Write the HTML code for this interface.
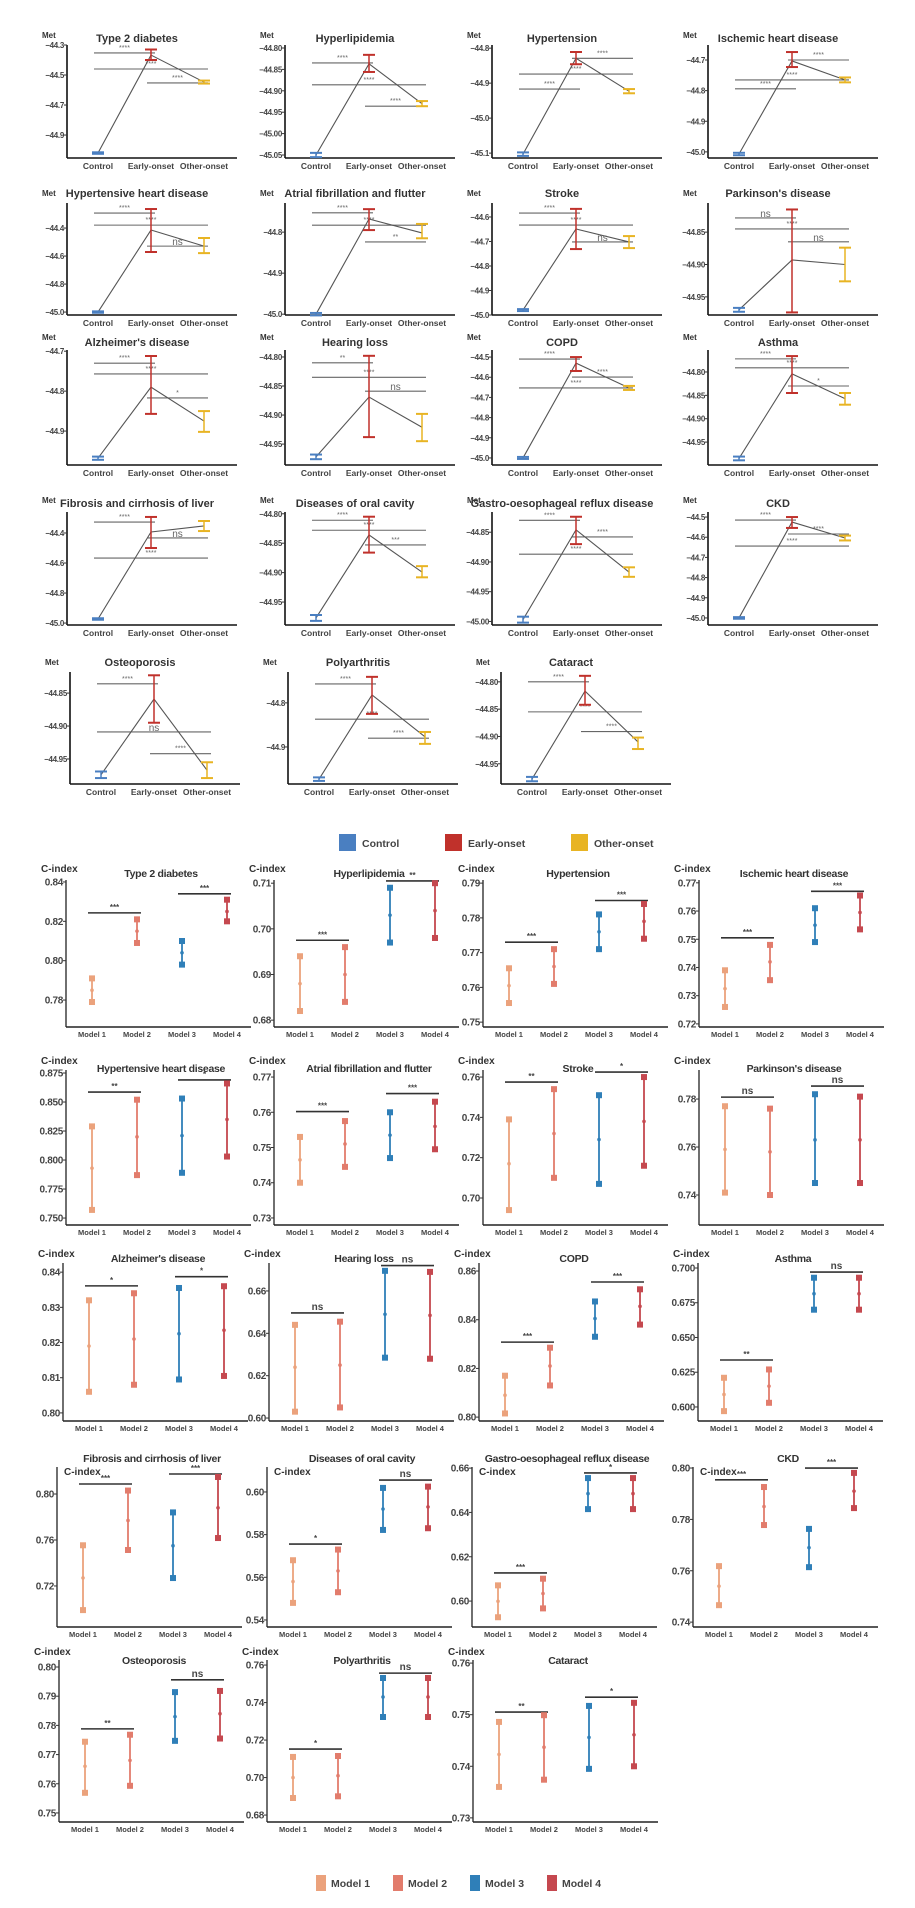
<!DOCTYPE html>
<html><head><meta charset="utf-8">
<style>
html,body{margin:0;padding:0;background:#fff;}
svg{display:block;font-family:"Liberation Sans",Arial,sans-serif;}
</style></head>
<body>
<svg id="fig" width="915" height="1908" viewBox="0 0 915 1908" xmlns="http://www.w3.org/2000/svg"></svg>
<script>
// ===== Top section data (Met, mean and error range by group) =====
const groups = ["Control","Early-onset","Other-onset"];
const groupColors = ["#4a7fc1","#c0312b","#e8b423"];
const topTitles = ["Type 2 diabetes","Hyperlipidemia","Hypertension","Ischemic heart disease",
 "Hypertensive heart disease","Atrial fibrillation and flutter","Stroke","Parkinson's disease",
 "Alzheimer's disease","Hearing loss","COPD","Asthma",
 "Fibrosis and cirrhosis of liver","Diseases of oral cavity","Gastro-oesophageal reflux disease","CKD",
 "Osteoporosis","Polyarthritis","Cataract"];
const topDomains = [[-45.053,-44.3],[-45.057,-44.793],[-45.114,-44.791],[-45.02,-44.651],
 [-45.021,-44.221],[-45.002,-44.729],[-45.0,-44.543],[-44.978,-44.805],
 [-44.985,-44.697],[-44.986,-44.788],[-45.035,-44.465],[-44.999,-44.753],
 [-45.013,-44.26],[-44.989,-44.797],[-45.006,-44.816],[-45.035,-44.475],
 [-44.988,-44.818],[-44.984,-44.73],[-44.987,-44.782]];
const topTicks = [["-44.3","-44.5","-44.7","-44.9"],["-44.80","-44.85","-44.90","-44.95","-45.00","-45.05"],
 ["-44.8","-44.9","-45.0","-45.1"],["-44.7","-44.8","-44.9","-45.0"],
 ["-44.4","-44.6","-44.8","-45.0"],["-44.8","-44.9","-45.0"],["-44.6","-44.7","-44.8","-44.9","-45.0"],["-44.85","-44.90","-44.95"],
 ["-44.7","-44.8","-44.9"],["-44.80","-44.85","-44.90","-44.95"],["-44.5","-44.6","-44.7","-44.8","-44.9","-45.0"],["-44.80","-44.85","-44.90","-44.95"],
 ["-44.4","-44.6","-44.8","-45.0"],["-44.80","-44.85","-44.90","-44.95"],["-44.85","-44.90","-44.95","-45.00"],["-44.5","-44.6","-44.7","-44.8","-44.9","-45.0"],
 ["-44.85","-44.90","-44.95"],["-44.8","-44.9"],["-44.80","-44.85","-44.90","-44.95"]];
const topMeans = [[-45.02,-44.367,-44.547],[-45.05,-44.837,-44.93],[-45.103,-44.829,-44.923],[-45.007,-44.703,-44.765],
 [-45.0,-44.414,-44.529],[-45.0,-44.768,-44.802],[-44.98,-44.649,-44.702],[-44.97,-44.893,-44.90],
 [-44.968,-44.79,-44.875],[-44.972,-44.869,-44.921],[-45.0,-44.53,-44.653],[-44.985,-44.804,-44.857],
 [-44.973,-44.393,-44.353],[-44.977,-44.836,-44.899],[-44.997,-44.846,-44.917],[-45.0,-44.525,-44.604],
 [-44.974,-44.859,-44.967],[-44.973,-44.782,-44.877],[-44.978,-44.817,-44.91]];
const topLow = [[-45.025,-44.40,-44.557],[-45.055,-44.856,-44.936],[-45.108,-44.846,-44.929],[-45.011,-44.723,-44.773],
 [-45.005,-44.571,-44.579],[-45.003,-44.795,-44.815],[-44.984,-44.731,-44.727],[-44.973,-44.974,-44.926],
 [-44.972,-44.857,-44.902],[-44.976,-44.938,-44.945],[-45.005,-44.569,-44.663],[-44.989,-44.845,-44.87],
 [-44.978,-44.5,-44.387],[-44.982,-44.866,-44.908],[-45.002,-44.87,-44.925],[-45.004,-44.554,-44.616],
 [-44.979,-44.895,-44.979],[-44.977,-44.825,-44.893],[-44.982,-44.842,-44.923]];
const topHigh = [[-45.015,-44.33,-44.537],[-45.045,-44.816,-44.924],[-45.098,-44.811,-44.917],[-45.003,-44.674,-44.757],
 [-44.995,-44.264,-44.471],[-44.997,-44.744,-44.78],[-44.976,-44.567,-44.678],[-44.967,-44.815,-44.874],
 [-44.964,-44.712,-44.85],[-44.968,-44.798,-44.898],[-44.995,-44.5,-44.643],[-44.981,-44.766,-44.845],
 [-44.968,-44.293,-44.32],[-44.972,-44.805,-44.889],[-44.992,-44.824,-44.909],[-44.996,-44.5,-44.592],
 [-44.969,-44.823,-44.955],[-44.969,-44.741,-44.866],[-44.974,-44.789,-44.902]];
// brackets: [value, fromGroup, toGroup, label]
const topBrackets = [
 [[-44.353,0,1,"****"],[-44.46,0,2,"****"],[-44.553,1,2,"****"]],
 [[-44.835,0,1,"****"],[-44.886,0,2,"****"],[-44.936,1,2,"****"]],
 [[-44.829,1,2,"****"],[-44.874,0,2,"****"],[-44.917,0,1,"****"]],
 [[-44.70,1,2,"****"],[-44.765,0,2,"****"],[-44.794,0,1,"****"]],
 [[-44.293,0,1,"****"],[-44.379,0,2,"****"],[-44.529,1,2,"ns"]],
 [[-44.753,0,1,"****"],[-44.783,0,2,"****"],[-44.824,1,2,"**"]],
 [[-44.584,0,1,"****"],[-44.633,0,2,"****"],[-44.702,1,2,"ns"]],
 [[-44.828,0,1,"ns"],[-44.845,0,2,"****"],[-44.865,1,2,"ns"]],
 [[-44.73,0,1,"****"],[-44.757,0,2,"****"],[-44.817,1,2,"*"]],
 [[-44.81,0,1,"**"],[-44.835,0,2,"****"],[-44.859,1,2,"ns"]],
 [[-44.51,0,1,"****"],[-44.599,1,2,"****"],[-44.653,0,2,"****"]],
 [[-44.772,0,1,"****"],[-44.791,0,2,"****"],[-44.83,1,2,"*"]],
 [[-44.327,0,1,"****"],[-44.433,1,2,"ns"],[-44.567,0,2,"****"]],
 [[-44.811,0,1,"****"],[-44.828,0,2,"****"],[-44.853,1,2,"***"]],
 [[-44.83,0,1,"****"],[-44.858,1,2,"****"],[-44.887,0,2,"****"]],
 [[-44.515,0,1,"****"],[-44.584,1,2,"****"],[-44.644,0,2,"****"]],
 [[-44.836,0,1,"****"],[-44.909,0,2,"ns"],[-44.942,1,2,"****"]],
 [[-44.757,0,1,"****"],[-44.837,0,2,"****"],[-44.88,1,2,"****"]],
 [[-44.80,0,1,"****"],[-44.855,0,2,"****"],[-44.891,1,2,"****"]]];

// ===== Bottom section data (C-index) =====
const models = ["Model 1","Model 2","Model 3","Model 4"];
const modelColors = ["#eba27c","#e27c6c","#2f7fb8","#c5484f"];
const botDomains = [[0.7663,0.841],[0.6785,0.7107],[0.7486,0.7909],[0.7189,0.771],
 [0.744,0.8776],[0.728,0.772],[0.6866,0.7635],[0.7275,0.7921],
 [0.7977,0.8426],[0.5986,0.6732],[0.7984,0.8633],[0.5899,0.7036],
 [0.6843,0.8235],[0.5367,0.6117],[0.5883,0.6605],[0.7381,0.8004],
 [0.7469,0.8024],[0.6763,0.7627],[0.7292,0.7606]];
const botTicks = [["0.78","0.80","0.82","0.84"],["0.68","0.69","0.70","0.71"],["0.75","0.76","0.77","0.78","0.79"],["0.72","0.73","0.74","0.75","0.76","0.77"],
 ["0.750","0.775","0.800","0.825","0.850","0.875"],["0.73","0.74","0.75","0.76","0.77"],["0.70","0.72","0.74","0.76"],["0.74","0.76","0.78"],
 ["0.80","0.81","0.82","0.83","0.84"],["0.60","0.62","0.64","0.66"],["0.80","0.82","0.84","0.86"],["0.600","0.625","0.650","0.675","0.700"],
 ["0.72","0.76","0.80"],["0.54","0.56","0.58","0.60"],["0.60","0.62","0.64","0.66"],["0.74","0.76","0.78","0.80"],
 ["0.75","0.76","0.77","0.78","0.79","0.80"],["0.68","0.70","0.72","0.74","0.76"],["0.73","0.74","0.75","0.76"]];
const botLow = [[0.779,0.809,0.798,0.820],[0.682,0.684,0.697,0.698],[0.7555,0.761,0.771,0.774],[0.726,0.7355,0.749,0.7535],
 [0.757,0.787,0.789,0.803],[0.740,0.7445,0.747,0.7495],[0.694,0.710,0.707,0.716],[0.741,0.740,0.745,0.745],
 [0.806,0.808,0.8095,0.8105],[0.603,0.605,0.6285,0.628],[0.8015,0.813,0.833,0.838],[0.597,0.603,0.670,0.670],
 [0.699,0.7513,0.7269,0.7617],[0.548,0.553,0.5822,0.583],[0.5927,0.5967,0.6415,0.6415],[0.7466,0.7778,0.7614,0.7844],
 [0.7569,0.7593,0.7747,0.7755],[0.6891,0.690,0.7323,0.7323],[0.736,0.7374,0.7395,0.740]];
const botMid = [[0.785,0.815,0.804,0.825],[0.688,0.690,0.703,0.704],[0.7605,0.766,0.776,0.779],[0.7325,0.742,0.755,0.7595],
 [0.793,0.820,0.821,0.835],[0.7465,0.751,0.7535,0.756],[0.717,0.732,0.729,0.738],[0.759,0.758,0.763,0.763],
 [0.819,0.821,0.8225,0.8235],[0.624,0.625,0.649,0.6485],[0.809,0.821,0.8405,0.8455],[0.609,0.615,0.6815,0.6815],
 [0.727,0.777,0.755,0.788],[0.558,0.563,0.592,0.593],[0.5999,0.6034,0.6485,0.6485],[0.754,0.785,0.769,0.791],
 [0.766,0.768,0.783,0.784],[0.700,0.701,0.743,0.743],[0.7423,0.7437,0.7456,0.7461]];
const botHigh = [[0.791,0.821,0.810,0.831],[0.694,0.696,0.709,0.710],[0.7655,0.771,0.781,0.784],[0.739,0.748,0.761,0.7655],
 [0.829,0.852,0.853,0.866],[0.753,0.7575,0.760,0.763],[0.739,0.754,0.751,0.760],[0.777,0.776,0.782,0.781],
 [0.832,0.834,0.8355,0.836],[0.644,0.6455,0.6695,0.669],[0.817,0.8285,0.8475,0.8525],[0.621,0.627,0.693,0.693],
 [0.7554,0.803,0.784,0.8148],[0.568,0.573,0.6019,0.6025],[0.6071,0.6101,0.6555,0.6555],[0.7618,0.7926,0.7763,0.7981],
 [0.7744,0.7768,0.7914,0.7918],[0.711,0.7115,0.7531,0.7531],[0.7486,0.7499,0.7517,0.7523]];
// brackets: [value, label] for Model1-2 and Model3-4
const botBr12 = [[0.8243,"***"],[0.6975,"***"],[0.773,"***"],[0.7505,"***"],[0.8586,"**"],[0.7602,"***"],[0.7575,"**"],[0.7808,"ns"],
 [0.8361,"*"],[0.6496,"ns"],[0.8308,"***"],[0.6338,"**"],[0.8087,"***"],[0.5756,"*"],[0.6127,"***"],[0.7954,"***"],
 [0.7788,"**"],[0.7152,"*"],[0.7505,"**"]];
const botBr34 = [[0.834,"***"],[0.7105,"**"],[0.785,"***"],[0.767,"***"],[0.869,"*"],[0.7653,"***"],[0.7625,"*"],[0.7854,"ns"],
 [0.8387,"*"],[0.672,"ns"],[0.8555,"***"],[0.6971,"ns"],[0.8174,"***"],[0.6056,"ns"],[0.6578,"*"],[0.80,"***"],
 [0.7956,"ns"],[0.7557,"ns"],[0.7534,"*"]];

// ===== layout =====
const svg = document.getElementById('fig');
const NS = "http://www.w3.org/2000/svg";
function mk(tag, attrs, parent, text){
  const e = document.createElementNS(NS, tag);
  for (const k in attrs) e.setAttribute(k, attrs[k]);
  if (text !== undefined) e.textContent = text;
  (parent||svg).appendChild(e);
  return e;
}
const minus = s => s.replace('-', '\u2212');

const topRows = [[45,158,35,38],[203,315,193,193],[350,465,337,342],[512,625,500,503],[672,784,662,662]];
const topCols = [[67,285,492,708],[67,285,492,708],[67,285,492,708],[67,285,492,708],[70,288,501]];

topTitles.forEach((title, p) => {
  const r = Math.floor(p/4), c = p%4;
  const [top, bot, metY, titY] = topRows[r];
  const ax = topCols[r][c];
  const [d0, d1] = topDomains[p];
  const ys = v => bot - (v - d0) / (d1 - d0) * (bot - top);
  const xs = i => ax + 31 + 53*i;
  const g = mk('g', {});
  
  
  const t = mk('text', {x: ax+70, y: titY+4, 'text-anchor':'middle', 'font-size':11, 'font-weight':'bold', fill:'#333'}, g, title);
  
  
  const m = mk('text', {x: ax-25, y: metY+3, 'font-size':8, 'font-weight':'bold', fill:'#333'}, g, 'Met');
  
  
  mk('line', {x1:ax, y1:top, x2:ax, y2:bot, stroke:'#111', 'stroke-width':1.6}, g);
  mk('line', {x1:ax, y1:bot, x2:ax+170, y2:bot, stroke:'#111', 'stroke-width':1.6}, g);
  topTicks[p].forEach(s => {
    const y = ys(parseFloat(s));
    mk('line', {x1:ax-3, y1:y, x2:ax, y2:y, stroke:'#333', 'stroke-width':1}, g);
    const tl = mk('text', {x: ax-3, y: y+3, 'text-anchor':'end', 'font-size':8, 'font-weight':'bold', fill:'#444', 'letter-spacing':'-0.3'}, g, minus(s));
    
    
  });
  groups.forEach((gname, i) => {
    const xl = mk('text', {x: xs(i), y: bot+11, 'text-anchor':'middle', 'font-size':8.5, 'font-weight':'bold', fill:'#444'}, g, gname);
    
    
  });
  // brackets
  topBrackets[p].forEach(b => {
    const y = ys(b[0]);
    const x1 = xs(b[1]) - 4, x2 = xs(b[2]) + 4;
    mk('line', {x1:x1, y1:y, x2:x2, y2:y, stroke:'#666', 'stroke-width':1.1}, g);
    const ns = b[3] === 'ns';
    const bl = mk('text', {x:(x1+x2)/2, y: ns ? y-1 : y-3, 'text-anchor':'middle', 'font-size': ns ? 10 : 7, fill:'#666'}, g, b[3]);
    
    
  });
  // connecting line
  const pts = topMeans[p].map((v,i) => xs(i)+','+ys(v)).join(' ');
  const pl = mk('polyline', {points: pts, fill:'none', stroke:'#555', 'stroke-width':1.1}, g);
  
  
  // error bars
  groups.forEach((gname, i) => {
    const col = groupColors[i];
    const x = xs(i), ylo = ys(topLow[p][i]), yhi = ys(topHigh[p][i]);
    const eb = mk('g', {}, g);
    
    
    mk('line', {x1:x, y1:ylo, x2:x, y2:yhi, stroke:col, 'stroke-width':1.5}, eb);
    mk('line', {x1:x-6, y1:ylo, x2:x+6, y2:ylo, stroke:col, 'stroke-width':2}, eb);
    mk('line', {x1:x-6, y1:yhi, x2:x+6, y2:yhi, stroke:col, 'stroke-width':2}, eb);
  });
});

// top legend
const legTop = mk('g', {});


const legTopX = [339, 445, 571];
groups.forEach((gname, i) => {
  const it = mk('g', {}, legTop);
  
  
  mk('rect', {x: legTopX[i], y: 834, width: 17, height: 17, fill: groupColors[i]}, it);
  mk('text', {x: legTopX[i]+23, y: 847, 'font-size':10.5, 'font-weight':'bold', fill:'#444'}, it, gname);
});

// bottom panels
const botRows = [[880,1027,868,873],[1070,1225,1060,1068],[1263,1421,1253,1258],[1467,1627,1471,1458],[1660,1822,1651,1660]];
const botCols = [[66,274,483,699],[66,274,483,699],[63,269,479,698],[57,267,472,693],[59,267,473]];
const botTitles = topTitles;
botTitles.forEach((title, p) => {
  const r = Math.floor(p/4), c = p%4;
  const [top, bot, ciY, titY] = botRows[r];
  const ax = botCols[r][c];
  const [d0, d1] = botDomains[p];
  const ys = v => bot - (v - d0) / (d1 - d0) * (bot - top);
  const xs = i => ax + 26 + 45*i;
  const g = mk('g', {});
  
  
  const t = mk('text', {x: ax+95, y: titY+4, 'text-anchor':'middle', 'font-size':10.5, 'font-weight':'bold', fill:'#333', 'letter-spacing':'-0.3'}, g, title);
  
  
  const ciX = r === 3 ? ax+7 : ax-25;
  const ci = mk('text', {x: ciX, y: ciY+4, 'font-size':10, 'font-weight':'bold', fill:'#333'}, g, 'C-index');
  
  
  mk('line', {x1:ax, y1:top, x2:ax, y2:bot, stroke:'#222', 'stroke-width':1.3}, g);
  mk('line', {x1:ax, y1:bot, x2:ax+185, y2:bot, stroke:'#222', 'stroke-width':1.6}, g);
  botTicks[p].forEach(s => {
    const y = ys(parseFloat(s));
    mk('line', {x1:ax-3, y1:y, x2:ax, y2:y, stroke:'#333', 'stroke-width':1}, g);
    const tl = mk('text', {x: ax-3, y: y+3.5, 'text-anchor':'end', 'font-size':10, 'font-weight':'bold', fill:'#444', 'letter-spacing':'-0.3'}, g, s);
    
    
  });
  models.forEach((mname, i) => {
    const xl = mk('text', {x: xs(i), y: bot+10, 'text-anchor':'middle', 'font-size':7.5, 'font-weight':'bold', fill:'#444'}, g, mname);
    
    
  });
  [[botBr12[p],0,1],[botBr34[p],2,3]].forEach(([b,i,j]) => {
    const y = ys(b[0]);
    const x1 = xs(i)-4, x2 = xs(j)+4;
    mk('line', {x1:x1, y1:y, x2:x2, y2:y, stroke:'#333', 'stroke-width':1.6}, g);
    const ns = b[1] === 'ns';
    const bl = mk('text', {x:(x1+x2)/2, y: ns ? y-3 : y-3, 'text-anchor':'middle', 'font-size': ns ? 10 : 8, 'font-weight':'bold', fill:'#444'}, g, b[1]);
    
    
  });
  models.forEach((mname, i) => {
    const col = modelColors[i];
    const x = xs(i), ylo = ys(botLow[p][i]), yhi = ys(botHigh[p][i]), ym = ys(botMid[p][i]);
    const eb = mk('g', {}, g);
    
    
    mk('line', {x1:x, y1:ylo, x2:x, y2:yhi, stroke:col, 'stroke-width':1.8}, eb);
    mk('rect', {x:x-3, y:ylo-3, width:6, height:6, fill:col}, eb);
    mk('rect', {x:x-3, y:yhi-3, width:6, height:6, fill:col}, eb);
    mk('circle', {cx:x, cy:ym, r:1.8, fill:col}, eb);
  });
});

// bottom legend
const legBot = mk('g', {});


const legBotX = [316, 393, 470, 547];
models.forEach((mname, i) => {
  const it = mk('g', {}, legBot);
  
  
  mk('rect', {x: legBotX[i], y: 1875, width: 10, height: 16, fill: modelColors[i]}, it);
  mk('text', {x: legBotX[i]+15, y: 1887, 'font-size':10.5, 'font-weight':'bold', fill:'#444'}, it, mname);
});
</script>
</body></html>
